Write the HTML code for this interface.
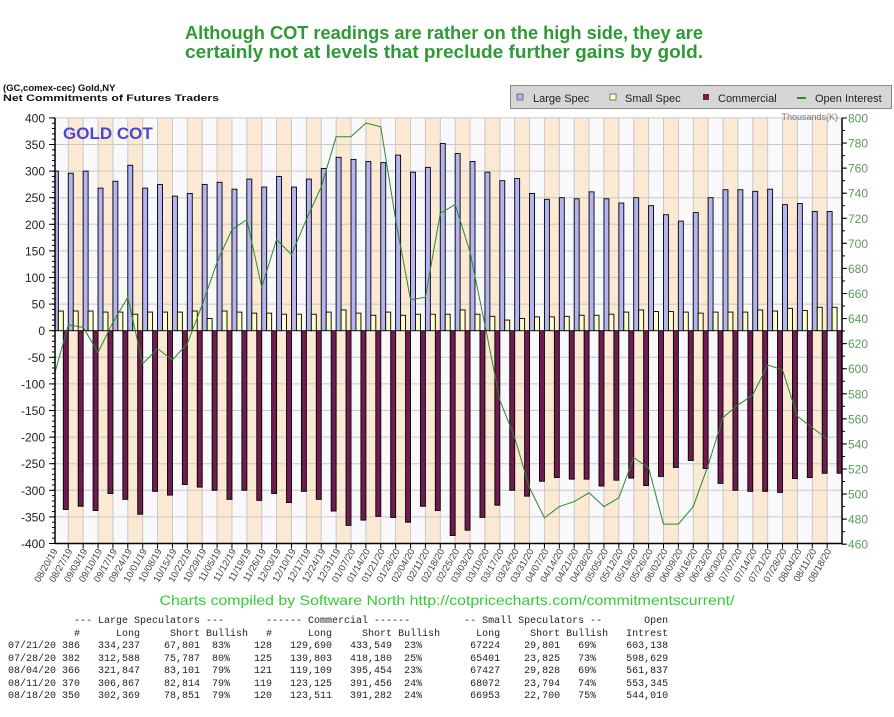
<!DOCTYPE html>
<html><head><meta charset="utf-8"><title>Gold COT</title>
<style>
html,body{margin:0;padding:0;background:#fff;}
body{width:894px;height:717px;overflow:hidden;position:relative;font-family:"Liberation Sans",sans-serif;}
svg{position:absolute;left:0;top:0;}
pre{position:absolute;left:8px;top:616px;margin:0;font-family:"Liberation Mono",monospace;font-size:10px;line-height:12.5px;color:#222;}
</style></head>
<body>
<svg id="chart" width="894" height="717" viewBox="0 0 894 717">
  <text x="444" y="39" text-anchor="middle" font-size="18" font-weight="bold" fill="#2e9a36" textLength="518" lengthAdjust="spacingAndGlyphs">Although COT readings are rather on the high side, they are</text>
  <text x="444" y="58" text-anchor="middle" font-size="18" font-weight="bold" fill="#2e9a36" textLength="518" lengthAdjust="spacingAndGlyphs">certainly not at levels that preclude further gains by gold.</text>
  <text x="3" y="91" font-size="9.5" font-weight="bold" fill="#111">(GC,comex-cec) Gold,NY</text>
  <text x="3" y="101" font-size="9.5" font-weight="bold" fill="#111" textLength="216" lengthAdjust="spacingAndGlyphs">Net Commitments of Futures Traders</text>
  <g>
    <rect x="510.5" y="85.5" width="381" height="23" fill="#d6d6d6" stroke="#888"/>
    <rect x="517" y="94" width="6" height="6" fill="#b4b4f0" stroke="#333" stroke-width="0.6"/>
    <text x="533" y="102" font-size="11" fill="#222">Large Spec</text>
    <rect x="610" y="94" width="6" height="6" fill="#ffffc8" stroke="#333" stroke-width="0.6"/>
    <text x="625" y="102" font-size="11" fill="#222">Small Spec</text>
    <rect x="703" y="94" width="6" height="6" fill="#701c50"/>
    <text x="718" y="102" font-size="11" fill="#222">Commercial</text>
    <line x1="797" y1="98" x2="806" y2="98" stroke="#2a8a2a" stroke-width="2"/>
    <text x="815" y="102" font-size="11" fill="#222">Open Interest</text>
  </g>
  <g id="plot"></g>
  <text x="838" y="120" text-anchor="end" font-size="9" fill="#777">Thousands(K)</text>
  <text x="447" y="605" text-anchor="middle" font-size="14" fill="#33cc33" textLength="575" lengthAdjust="spacingAndGlyphs">Charts compiled by Software North  http://cotpricecharts.com/commitmentscurrent/</text>
</svg>
<pre>           --- Large Speculators ---       ------ Commercial ------         -- Small Speculators --       Open
           #      Long     Short Bullish   #      Long     Short Bullish      Long     Short Bullish   Intrest
07/21/20 386   334,237    67,801  83%    128   129,690   433,549  23%        67224    29,801   69%     603,138
07/28/20 382   312,588    75,787  80%    125   139,803   418,180  25%        65401    23,825   73%     598,629
08/04/20 366   321,847    83,101  79%    121   119,109   395,454  23%        67427    29,828   69%     561,837
08/11/20 370   306,867    82,814  79%    119   123,125   391,456  24%        68072    23,794   74%     553,345
08/18/20 350   302,369    78,851  79%    120   123,511   391,282  24%        66953    22,700   75%     544,010</pre>
<script>
const dates = ["08/20/19","08/27/19","09/03/19","09/10/19","09/17/19","09/24/19","10/01/19","10/08/19","10/15/19","10/22/19","10/29/19","11/05/19","11/12/19","11/19/19","11/26/19","12/03/19","12/10/19","12/17/19","12/24/19","12/31/19","01/07/20","01/14/20","01/21/20","01/28/20","02/04/20","02/11/20","02/18/20","02/25/20","03/03/20","03/10/20","03/17/20","03/24/20","03/31/20","04/07/20","04/14/20","04/21/20","04/28/20","05/05/20","05/12/20","05/19/20","05/26/20","06/02/20","06/09/20","06/16/20","06/23/20","06/30/20","07/07/20","07/14/20","07/21/20","07/28/20","08/04/20","08/11/20","08/18/20"];
const largeSpec = [300,296,300,268,281,311,268,275,253,258,275,279,266,285,270,290,270,285,305,326,322,318,316,330,298,307,352,333,318,298,282,286,258,247,250,248,261,248,240,250,235,218,206,222,250,265,265,262,266,237,239,224,224];
const smallSpec = [37,37,37,35,35,31,35,35,35,37,23,37,35,33,33,31,31,31,35,39,33,29,35,29,31,31,31,39,31,27,20,23,26,26,27,29,29,31,35,39,36,36,35,33,35,35,35,39,37,42,38,44,44];
const commercial = [-336,-330,-338,-306,-317,-345,-302,-309,-289,-294,-300,-317,-300,-319,-306,-323,-302,-317,-339,-366,-356,-349,-351,-360,-330,-338,-385,-375,-351,-328,-300,-311,-283,-276,-279,-279,-292,-281,-277,-291,-274,-257,-244,-259,-287,-300,-302,-302,-304,-278,-276,-268,-268];
const openInterest = [597,635,633,613,637,657,604,616,607,620,651,685,711,719,665,703,691,719,745,785,785,796,793,719,655,657,724,731,693,635,575,545,505,481,490,494,501,490,497,529,521,476,476,490,523,561,571,579,603,599,562,553,544];
const leftTicks = [400,350,300,250,200,150,100,50,0,-50,-100,-150,-200,-250,-300,-350,-400];
const rightTicks = [800,780,760,740,720,700,680,660,640,620,600,580,560,540,520,500,480,460];

const NS = "http://www.w3.org/2000/svg";
const plot = document.getElementById("plot");
const X0 = 53.4, COLW = 14.88, PL = 55, PR = 842, PT = 118, PB = 543.5;
const yL = v => 330.7 - v * 0.532;
const yR = v => 118 + (800 - v) * 1.2535;
const colX = i => X0 + i * COLW;
function mk(tag, attrs, parent) {
  const e = document.createElementNS(NS, tag);
  for (const k in attrs) e.setAttribute(k, attrs[k]);
  (parent || plot).appendChild(e);
  return e;
}
const bands = mk("g", {});


dates.forEach((d, i) => {
  const x = Math.max(colX(i), PL), w = colX(i + 1) - x;
  const r = mk("rect", {x: x, y: PT, width: w, height: PB - PT, fill: i % 2 ? "#fbe9d3" : "#f9f9fb"}, bands);
  
  
  if (i > 0) {
    const l = mk("line", {x1: colX(i), y1: PT, x2: colX(i), y2: PB, stroke: "#c8c8c8", "stroke-width": 1}, bands);
    
    
  }
});
leftTicks.forEach(v => {
  const g = mk("line", {x1: PL, y1: yL(v), x2: PR, y2: yL(v), stroke: "#c8c8c8", "stroke-width": 1});
  
  
  const t = mk("text", {x: 45, y: yL(v) + 4.5, "text-anchor": "end", "font-size": 12, fill: "#222"});
  t.textContent = v;
  
  
  mk("line", {x1: PL - 6, y1: yL(v), x2: PL, y2: yL(v), stroke: "#000"});
});
for (let v = -400; v <= 400; v += 10) mk("line", {x1: PL - 3, y1: yL(v), x2: PL, y2: yL(v), stroke: "#000"});
rightTicks.forEach(v => {
  const t = mk("text", {x: 848, y: yR(v) + 4.5, "font-size": 12, fill: "#5a9a5a"});
  t.textContent = v;
  
  
  mk("line", {x1: PR, y1: yR(v), x2: PR + 5, y2: yR(v), stroke: "#000"});
});
for (let v = 460; v <= 800; v += 10) mk("line", {x1: PR, y1: yR(v), x2: PR + 3, y2: yR(v), stroke: "#000"});
const bw = COLW / 3;
dates.forEach((d, i) => {
  const x = colX(i);
  const y0 = yL(0);
  const lx = Math.max(x, PL);
  const ly = yL(largeSpec[i]);
  const b1 = mk("rect", {x: lx, y: ly, width: x + bw - lx, height: y0 - ly, fill: "#b4b4f0", stroke: "#000", "stroke-width": 0.9});
  
  
  const sy = yL(smallSpec[i]);
  const b2 = mk("rect", {x: x + bw, y: sy, width: bw, height: y0 - sy, fill: "#ffffc8", stroke: "#000", "stroke-width": 0.9});
  
  
  const cy = yL(commercial[i]);
  const b3 = mk("rect", {x: x + 2 * bw, y: y0, width: bw, height: cy - y0, fill: "#701c50", stroke: "#000", "stroke-width": 0.9});
  
  
});
const pts = openInterest.map((v, i) => Math.max(colX(i), PL) + "," + yR(v)).join(" ");
const oi = mk("polyline", {points: pts, fill: "none", stroke: "#2a8a2a", "stroke-width": 1});


mk("line", {x1: PL, y1: PT, x2: PL, y2: PB, stroke: "#000", "stroke-width": 1.5});
mk("line", {x1: PR, y1: PT, x2: PR, y2: PB, stroke: "#000", "stroke-width": 1.5});
mk("line", {x1: PL, y1: PB, x2: PR, y2: PB, stroke: "#000", "stroke-width": 1.5});
dates.forEach((d, i) => {
  const tx = colX(i);
  if (i > 0) mk("line", {x1: tx, y1: PB, x2: tx, y2: PB + 5, stroke: "#000"});
  const ax = tx + 4.5, ay = 551;
  const t = mk("text", {x: ax, y: ay, "text-anchor": "end", "font-size": 9.5, fill: "#444", transform: "rotate(-60 " + ax + " " + ay + ")"});
  t.textContent = d;
  
  
});
const gc = mk("text", {x: 63, y: 139, "font-size": 17, "font-weight": "bold", fill: "#4848d0"});
gc.textContent = "GOLD COT";


</script>
</body></html>
